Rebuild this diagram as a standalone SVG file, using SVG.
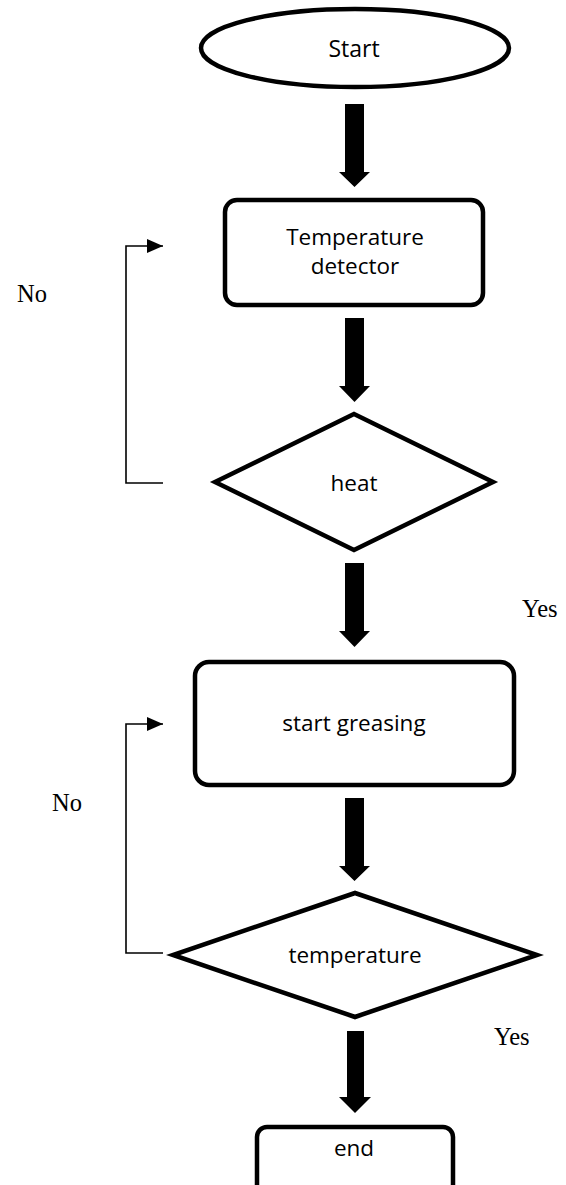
<svg xmlns="http://www.w3.org/2000/svg" width="566" height="1185" viewBox="0 0 566 1185">
<style>
.shape{fill:#fff;stroke:#000;stroke-width:4.5;stroke-linejoin:miter}
.lbl{font-family:"Open Sans","Liberation Sans",sans-serif;font-size:22.5px;fill:#000;text-anchor:middle}
.edge{font-family:"Liberation Serif","Times New Roman",serif;font-size:24.5px;fill:#000}
.loop{fill:none;stroke:#000;stroke-width:1.6}
.blk{fill:#000}
</style>
<defs>
<marker id="ah" markerWidth="16" markerHeight="14" refX="16" refY="7" orient="auto" markerUnits="userSpaceOnUse">
<path d="M0,0 L16,7 L0,14 Z" fill="#000"/>
</marker>
</defs>
<rect width="566" height="1185" fill="#fff"/>
<g id="connectors">
<path class="blk" d="M345,104 H364 V172 H370 L354.5,187 L339,172 H345 Z"/>
<path class="blk" d="M345,318 H364 V386 H370 L354.5,402 L339,386 H345 Z"/>
<path class="blk" d="M345,563 H364 V631 H370 L354.5,647 L339,631 H345 Z"/>
<path class="blk" d="M345,798 H364 V866 H370 L354.5,881 L339,866 H345 Z"/>
<path class="blk" d="M347,1031 H364 V1097 H371 L355,1113 L339,1097 H347 Z"/>
<path class="loop" d="M163,483 H126 V246 H163" marker-end="url(#ah)"/>
<path class="loop" d="M163,953 H126 V724 H163" marker-end="url(#ah)"/>
<text class="edge" x="17" y="302">No</text>
<text class="edge" x="52" y="811">No</text>
<text class="edge" x="522" y="617">Yes</text>
<text class="edge" x="494" y="1045">Yes</text>
</g>
<g id="start">
<ellipse class="shape" cx="355" cy="48" rx="154" ry="39"/>
<text class="lbl" x="354" y="57" style="font-size:23px">Start</text>
</g>
<g id="temperature-detector">
<rect class="shape" x="225" y="200" width="258" height="105" rx="12"/>
<text class="lbl" x="355" y="245">Temperature</text>
<text class="lbl" x="355" y="274">detector</text>
</g>
<g id="heat">
<polygon class="shape" points="354,414 493,482 354,550 215,482"/>
<text class="lbl" x="354" y="491">heat</text>
</g>
<g id="start-greasing">
<rect class="shape" x="195" y="662" width="319" height="123" rx="14"/>
<text class="lbl" x="354" y="731">start greasing</text>
</g>
<g id="temperature">
<polygon class="shape" points="355,893 537,955 355,1017 173,955"/>
<text class="lbl" x="355" y="963">temperature</text>
</g>
<g id="end">
<rect class="shape" x="257" y="1127" width="196" height="80" rx="10"/>
<text class="lbl" x="354" y="1156">end</text>
</g>
</svg>
